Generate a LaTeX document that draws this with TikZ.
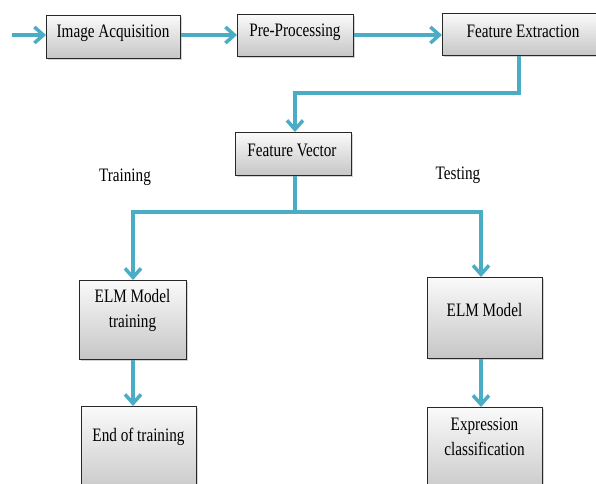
\documentclass[tikz,border=0pt]{standalone}
\usepackage{fontspec}
\setmainfont{Liberation Serif}[FakeStretch=0.8]
\usetikzlibrary{arrows.meta,shadows}
\definecolor{flowblue}{RGB}{75,172,198}
\definecolor{boxedge}{RGB}{40,40,40}
\tikzset{
  box/.style={draw=boxedge, line width=0.9pt, top color=white!96!gray, bottom color=gray!45,
    drop shadow={shadow xshift=1.5pt, shadow yshift=-1.5pt, opacity=0.35},
    inner sep=0pt, anchor=north west},
  txt/.style={font=\fontsize{19}{25}\selectfont, align=center, inner sep=0pt},
  flow/.style={draw=flowblue, line width=4pt},
  conn/.style={flow, -{Straight Barb[length=9pt, width=16pt, line width=3.5pt]}},
}
\begin{document}
\begin{tikzpicture}[x=1pt, y=-1pt]
\useasboundingbox (0,0) rectangle (596,483);

% top row
\node[box, minimum width=134, minimum height=43] (ia) at (46,15) {};
\node[txt] (iat) at (113,33) {Image Acquisition};
\node[box, minimum width=116, minimum height=42] (pp) at (237,14) {};
\node[txt] (ppt) at (295,32) {Pre-Processing};
\node[box, minimum width=160, minimum height=42] (fe) at (442,13) {};
\node[txt] (fet) at (523,31) {Feature Extraction};

% feature vector
\node[box, minimum width=116, minimum height=43] (fv) at (235,132) {};
\node[txt] (fvt) at (292,150) {Feature Vector};

\node[txt] (train) at (125,177) {Training};
\node[txt] (test) at (458,175) {Testing};

% training branch
\node[box, minimum width=107, minimum height=79] (elmt) at (79,280) {};
\node[txt] (elmtt) at (132.5,310) {ELM Model\\training};
\node[box, minimum width=115, minimum height=90] (eot) at (81,406) {};
\node[txt] (eott) at (138.5,437) {End of training};

% testing branch
\node[box, minimum width=115, minimum height=81] (elm) at (427,277) {};
\node[txt] (elmtx) at (484.5,310) {ELM Model};
\node[box, minimum width=115, minimum height=90] (ec) at (427,407) {};
\node[txt] (ect) at (484.5,437) {Expression\\classification};

% connectors
\coordinate (in) at (12,35);
\draw[conn] (in) -- (in -| ia.west);
\draw[conn] (ia.east |- 0,35) -- (pp.west |- 0,35);
\draw[conn] (pp.east |- 0,35) -- (fe.west |- 0,35);
\draw[conn] (fe.south -| 519,0) -- (519,93) -| (fv.north -| 295,0);
\coordinate (split) at (295,212);
\draw[flow] (fv.south -| 295,0) -- (split);
\draw[conn] (split) -| (elmt.north -| 133,0);
\draw[conn] (split) -| (elm.north -| 481,0);
\draw[conn] (elmt.south -| 133,0) -- (eot.north -| 133,0);
\draw[conn] (elm.south -| 481,0) -- (ec.north -| 481,0);
\end{tikzpicture}
\end{document}
